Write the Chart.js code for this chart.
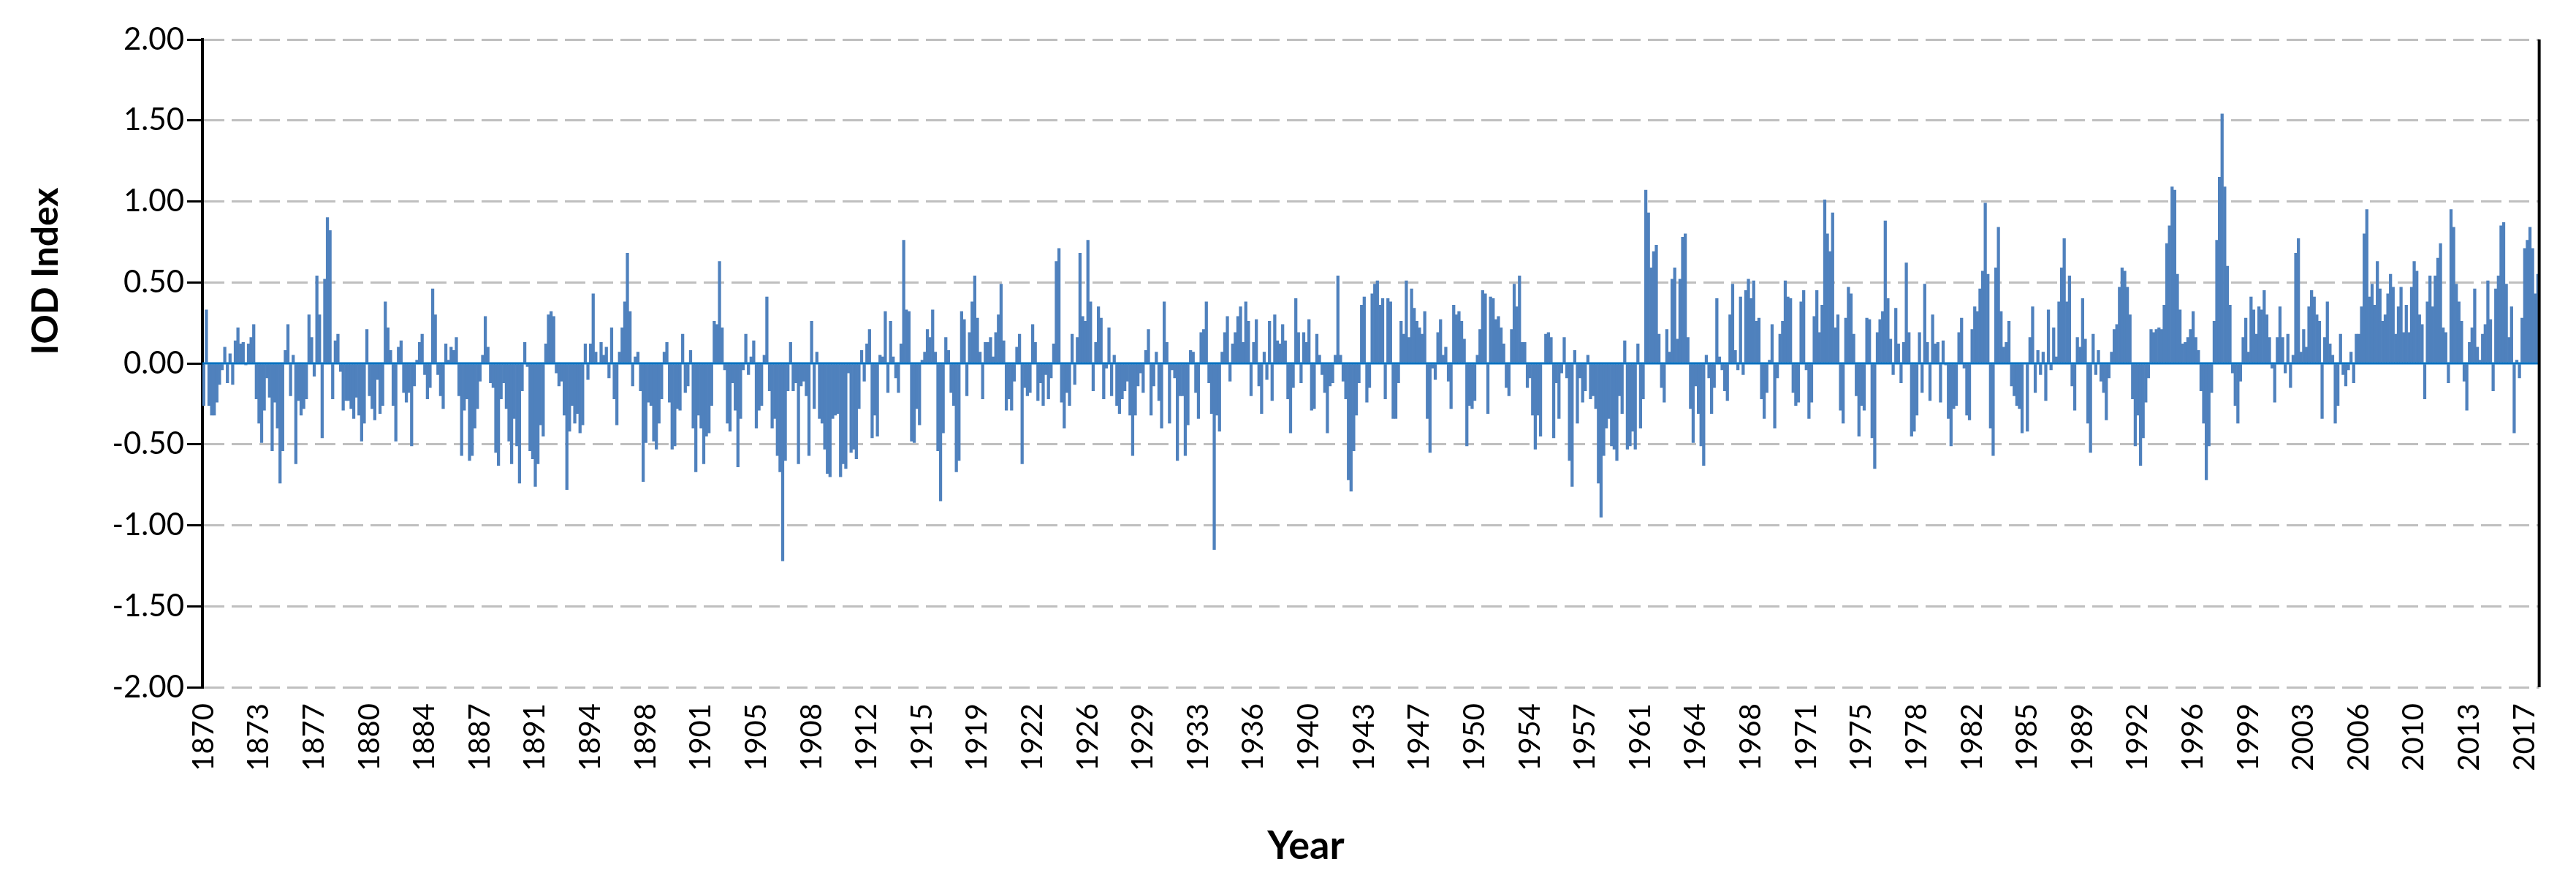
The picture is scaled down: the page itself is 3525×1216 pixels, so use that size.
<!DOCTYPE html>
<html>
<head>
<meta charset="utf-8">
<script src="https://cdn.jsdelivr.net/npm/chart.js@4.4.1/dist/chart.umd.min.js"></script>
<style>
  html, body { margin: 0; padding: 0; background: #fff; }
  #wrap { width: 3525px; height: 1216px; }
</style>
</head>
<body>
<div id="wrap"><canvas id="iod" width="3525" height="1216"></canvas></div>
<script>
// ── DATA ───────────────────────────────────────────────────────
// IOD index, one bar per two months, Jan 1870 onwards
const startYear = 1870;
const monthsPerBar = 2;

const iod1870 = [-0.26,0.33,-0.26,-0.32,-0.32,-0.24,-0.13,-0.04,0.10,-0.12,
  0.06,-0.13,0.14,0.22,0.12,0.13,-0.01,0.12,0.16,0.24,
  -0.22,-0.37,-0.49,-0.29,-0.09,-0.21,-0.54,-0.24,-0.40,-0.74,
  -0.54,0.08,0.24,-0.20,0.05,-0.62,-0.23,-0.32,-0.28,-0.22,
  0.30,0.16,-0.08,0.54,0.30,-0.46,0.52,0.90,0.82,-0.22,
  0.14,0.18,-0.05,-0.29,-0.23,-0.23,-0.28,-0.34,-0.21,-0.32,
  -0.48,-0.37,0.21,-0.20,-0.28,-0.35,-0.10,-0.31,-0.26,0.38,
  0.22,0.08,-0.26,-0.48,0.10];
const iod1882 = [0.14,-0.18,-0.24,-0.18,-0.51,-0.14,0.02,0.13,0.18,-0.07,
  -0.22,-0.15,0.46,0.30,-0.07,-0.20,-0.28,0.12,0.02,0.10,
  0.08,0.16,-0.20,-0.57,-0.29,-0.22,-0.60,-0.57,-0.40,-0.28,
  -0.11,0.05,0.29,0.10,-0.12,-0.15,-0.55,-0.63,-0.22,-0.12,
  -0.28,-0.48,-0.62,-0.34,-0.51,-0.74,-0.17,0.13,-0.02,-0.54,
  -0.59,-0.76,-0.62,-0.38,-0.45,0.12,0.30,0.32,0.29,-0.06,
  -0.14,-0.11,-0.32,-0.78,-0.42,-0.26,-0.37,-0.31,-0.43,-0.38,
  0.12,-0.10,0.12,0.43];
const iod1894 = [0.07,0.00,0.13,0.05,0.10,-0.09,0.22,-0.22,-0.38,0.07,
  0.22,0.38,0.68,0.32,-0.14,0.04,0.07,-0.17,-0.73,-0.49,
  -0.24,-0.26,-0.48,-0.53,-0.37,-0.22,0.07,0.13,-0.24,-0.53,
  -0.51,-0.28,-0.29,0.18,-0.18,-0.14,0.08,-0.40,-0.67,-0.32,
  -0.40,-0.62,-0.45,-0.43,-0.26,0.26,0.24,0.63,0.22,-0.04,
  -0.37,-0.42,-0.12,-0.29,-0.64,-0.34,-0.04,0.18,-0.07,0.04,
  0.14,-0.40,-0.29,-0.26,0.05,0.41,-0.17,-0.40,-0.34,-0.57,
  -0.67,-1.22,-0.60,-0.17];
const iod1907 = [0.13,-0.17,-0.12,-0.62,-0.14,-0.11,-0.20,-0.57,0.26,-0.28,
  0.07,-0.34,-0.37,-0.53,-0.68,-0.70,-0.34,-0.32,-0.31,-0.70,
  -0.62,-0.65,-0.06,-0.55,-0.53,-0.59,-0.28,0.08,-0.11,0.12,
  0.21,-0.46,-0.32,-0.45,0.05,0.04,0.32,-0.18,0.26,0.04,
  -0.09,-0.18,0.12,0.76,0.33,0.32,-0.48,-0.49,-0.28,-0.38,
  0.02,0.07,0.21,0.16,0.33,0.07,-0.54,-0.85,-0.43,0.16,
  0.08,-0.18,-0.26,-0.67,-0.60,0.32,0.27,-0.20,0.19,0.38,
  0.54,0.28,0.07,-0.22,0.13];
const iod1919 = [0.13,0.16,0.04,0.19,0.30,0.49,0.14,-0.29,-0.22,-0.29,
  -0.11,0.10,0.18,-0.62,-0.15,-0.20,-0.18,0.24,0.13,-0.23,
  -0.12,-0.26,-0.07,-0.22,-0.09,0.12,0.63,0.71,-0.24,-0.40,
  -0.18,-0.26,0.18,-0.13,0.16,0.68,0.29,0.26,0.76,0.38,
  -0.17,0.13,0.35,0.28,-0.22,-0.03,0.22,-0.20,0.05,-0.26,
  -0.31,-0.22,-0.17,-0.11,-0.32,-0.57,-0.32,-0.14,-0.06,-0.18,
  0.08,0.21,-0.32,-0.14,0.07,-0.23,-0.40,0.38,0.13,-0.37,
  -0.04,-0.09,-0.60,-0.20];
const iod1932 = [-0.20,-0.57,-0.38,0.08,0.07,-0.18,-0.34,0.19,0.21,0.38,
  -0.12,-0.31,-1.15,-0.32,-0.42,0.07,0.19,0.29,-0.11,0.12,
  0.19,0.29,0.35,0.13,0.38,0.26,-0.20,0.13,0.27,-0.14,
  -0.31,0.07,-0.10,0.26,-0.23,0.30,0.14,0.12,0.24,0.14,
  -0.22,-0.43,-0.15,0.40,0.19,-0.12,0.19,0.13,0.27,-0.29,
  -0.28,0.18,0.05,-0.07,-0.18,-0.43,-0.14,-0.12,0.05,0.54,
  0.05,-0.11,-0.22,-0.72,-0.79,-0.54,-0.32,-0.12,0.36,0.41,
  -0.24,-0.15,0.43,0.49];
const iod1944 = [0.51,0.36,0.40,-0.22,0.40,0.38,-0.34,-0.34,-0.12,0.26,
  0.18,0.51,0.16,0.46,0.34,0.26,0.22,0.18,0.32,-0.34,
  -0.55,-0.03,-0.10,0.19,0.27,0.05,0.10,-0.11,-0.28,0.36,
  0.30,0.32,0.26,0.15,-0.51,-0.26,-0.28,-0.23,0.05,0.21,
  0.45,0.43,-0.31,0.41,0.40,0.27,0.29,0.22,0.12,-0.15,
  -0.20,0.21,0.49,0.35,0.54,0.13,0.13,-0.15,-0.09,-0.32,
  -0.53,-0.32,-0.45,0.00,0.18,0.19,0.16,-0.46,-0.12,-0.34,
  -0.06,0.16,-0.09,-0.60,-0.76];
const iod1956 = [0.08,-0.37,-0.09,-0.24,-0.17,0.05,-0.22,-0.20,-0.28,-0.74,
  -0.95,-0.57,-0.40,-0.34,-0.51,-0.53,-0.60,-0.20,-0.31,0.14,
  -0.53,-0.51,-0.42,-0.53,0.12,-0.40,-0.22,1.07,0.93,0.59,
  0.69,0.73,0.18,-0.15,-0.24,0.21,0.07,0.52,0.59,0.15,
  0.52,0.78,0.80,0.16,-0.28,-0.49,-0.14,-0.31,-0.51,-0.63,
  0.05,-0.09,-0.31,-0.15,0.40,0.04,-0.04,-0.17,-0.23,0.30,
  0.49,0.08,-0.04,0.41,-0.07,0.45,0.52,0.40,0.51,0.26,
  0.28,-0.22,-0.34,-0.18,0.02];
const iod1969 = [0.24,-0.40,-0.09,0.18,0.26,0.51,0.41,0.40,-0.18,-0.26,
  -0.24,0.38,0.45,-0.04,-0.34,-0.24,0.29,0.45,0.19,0.36,
  1.01,0.80,0.69,0.93,0.22,0.30,-0.29,-0.37,0.28,0.47,
  0.43,0.18,-0.20,-0.45,-0.26,-0.29,0.28,0.27,-0.46,-0.65,
  0.19,0.27,0.32,0.88,0.40,0.15,-0.07,0.34,0.12,-0.12,
  0.13,0.62,0.19,-0.45,-0.42,-0.32,0.19,-0.18,0.49,0.13,
  -0.23,0.30,0.12,0.13,-0.24,0.14,-0.01,-0.34,-0.51,-0.28,
  -0.26,0.19,0.28,-0.03];
const iod1981 = [-0.32,-0.35,0.21,0.35,0.32,0.46,0.57,0.99,0.55,-0.40,
  -0.57,0.59,0.84,0.32,0.10,0.13,0.26,-0.14,-0.20,-0.26,
  -0.28,-0.43,0.00,-0.42,0.16,0.35,-0.18,0.08,-0.07,0.07,
  -0.23,0.33,-0.04,0.22,0.04,0.38,0.59,0.77,0.38,0.54,
  -0.14,-0.29,0.16,0.10,0.40,0.15,-0.37,-0.55,0.18,-0.07,
  0.08,-0.11,-0.18,-0.35,-0.09,0.07,0.21,0.24,0.47,0.59,
  0.57,0.47,0.30,-0.22,-0.51,-0.32,-0.63,-0.46,-0.24,-0.09,
  0.21,0.19,0.21,0.22];
const iod1994 = [0.21,0.36,0.74,0.85,1.09,1.07,0.55,0.33,0.12,0.13,
  0.16,0.21,0.32,0.16,0.08,-0.17,-0.37,-0.72,-0.51,-0.18,
  0.26,0.76,1.15,1.54,1.09,0.60,0.36,-0.06,-0.26,-0.37,
  -0.11,0.16,0.28,0.07,0.41,0.33,0.18,0.35,0.33,0.45,
  0.30,0.16,-0.03,-0.24,0.16,0.35,0.16,-0.06,0.18,-0.15,
  0.05,0.68,0.77,0.07,0.21,0.10,0.35,0.45,0.41,0.30,
  0.26,-0.34,0.16,0.38,0.12,0.05,-0.37,-0.26,0.18,-0.07,
  -0.14,-0.04,0.07,-0.12,0.18];
const iod2006 = [0.18,0.35,0.80,0.95,0.41,0.49,0.36,0.63,0.46,0.26,
  0.30,0.43,0.55,0.47,0.18,0.35,0.47,0.19,0.36,0.19,
  0.47,0.63,0.57,0.30,0.24,-0.22,0.38,0.54,0.35,0.54,
  0.65,0.74,0.22,0.19,-0.12,0.95,0.84,0.49,0.38,0.26,
  -0.11,-0.29,0.13,0.22,0.46,0.10,0.02,0.18,0.24,0.51,
  0.27,-0.17,0.46,0.54,0.85,0.87,0.49,0.16,0.35,-0.43,
  0.02,-0.09,0.28,0.71,0.76,0.84,0.71,0.43,0.55];

const yearTicks = ['1870','1873','1877','1880','1884','1887','1891','1894','1898','1901',
  '1905','1908','1912','1915','1919','1922','1926','1929','1933','1936',
  '1940','1943','1947','1950','1954','1957','1961','1964','1968','1971',
  '1975','1978','1982','1985','1989','1992','1996','1999','2003','2006',
  '2010','2013','2017'];
const tickEvery = 21;          // bars between year labels (42 months)
const yTicks = [-2, -1.5, -1, -0.5, 0, 0.5, 1, 1.5, 2];

const iodValues = [].concat(iod1870, iod1882, iod1894, iod1907, iod1919, iod1932,
  iod1944, iod1956, iod1969, iod1981, iod1994, iod2006);
const categories = iodValues.map((_, i) => String(startYear + Math.floor(i * monthsPerBar / 12)));

// ── STYLE ──────────────────────────────────────────────────────
const FONT = "Lato, 'Open Sans', sans-serif";
const BAR = '#4F81BD';
const ZERO = '#0070C0';
const GRID = '#BFBFBF';

// zero line sits on top of the bars, like the Excel axis line
const zeroLine = {
  id: 'zeroLine',
  afterDatasetsDraw(chart) {
    const { ctx, chartArea, scales } = chart;
    const y = scales.y.getPixelForValue(0);
    ctx.save();
    ctx.strokeStyle = ZERO;
    ctx.lineWidth = 3;
    ctx.beginPath();
    ctx.moveTo(chartArea.left, y);
    ctx.lineTo(chartArea.right, y);
    ctx.stroke();
    // right edge of the plot
    ctx.strokeStyle = '#000';
    ctx.lineWidth = 4;
    ctx.beginPath();
    ctx.moveTo(chartArea.right, chartArea.top);
    ctx.lineTo(chartArea.right, chartArea.bottom);
    ctx.stroke();
    ctx.restore();
  }
};

const axisTitles = {
  id: 'axisTitles',
  afterDraw(chart) {
    const { ctx } = chart;
    ctx.save();
    ctx.fillStyle = '#000';
    ctx.textAlign = 'center';
    ctx.textBaseline = 'middle';
    ctx.font = `bold 54px ${FONT}`;
    ctx.fillText('Year', 1787, 1158);
    ctx.font = `bold 50px ${FONT}`;
    ctx.translate(63, 371);
    ctx.rotate(-Math.PI / 2);
    ctx.fillText('IOD Index', 0, 0);
    ctx.restore();
  }
};

new Chart(document.getElementById('iod'), {
  type: 'bar',
  data: {
    labels: categories,
    datasets: [{
      data: iodValues,
      backgroundColor: BAR,
      borderWidth: 0,
      categoryPercentage: 1.0,
      barPercentage: 1.0,
    }]
  },
  options: {
    responsive: false,
    animation: false,
    devicePixelRatio: 1,
    layout: { padding: { top: 54, right: 27, bottom: 0, left: 0 } },
    plugins: {
      legend: { display: false },
      tooltip: { enabled: false },
    },
    scales: {
      x: {
        grid: { drawOnChartArea: false, drawTicks: false },
        border: { display: false },
        ticks: {
          autoSkip: false,
          minRotation: 90,
          maxRotation: 90,
          padding: 22,
          color: '#000',
          font: { family: FONT, size: 40 },
          callback: (v, i) => yearTicks[i],
        },
        afterBuildTicks: s => { s.ticks = s.ticks.filter(t => t.value % tickEvery === 0); },
        afterFit: s => { s.height = 1216 - 940; },
      },
      y: {
        min: -2,
        max: 2,
        afterBuildTicks: s => { s.ticks = yTicks.map(v => ({ value: v })); },
        ticks: {
          padding: 4,
          color: '#000',
          font: { family: FONT, size: 42 },
          callback: v => v.toFixed(2),
        },
        grid: {
          color: c => (c.tick && c.tick.value === 0) ? 'rgba(0,0,0,0)' : GRID,
          lineWidth: 3,
          tickColor: '#000',
          tickLength: 21,
          tickWidth: 3,
        },
        border: { display: true, color: '#000', width: 4, dash: [28, 10] },
        afterFit: s => { s.width = 277; },
      }
    }
  },
  plugins: [zeroLine, axisTitles]
});
</script>
</body>
</html>
